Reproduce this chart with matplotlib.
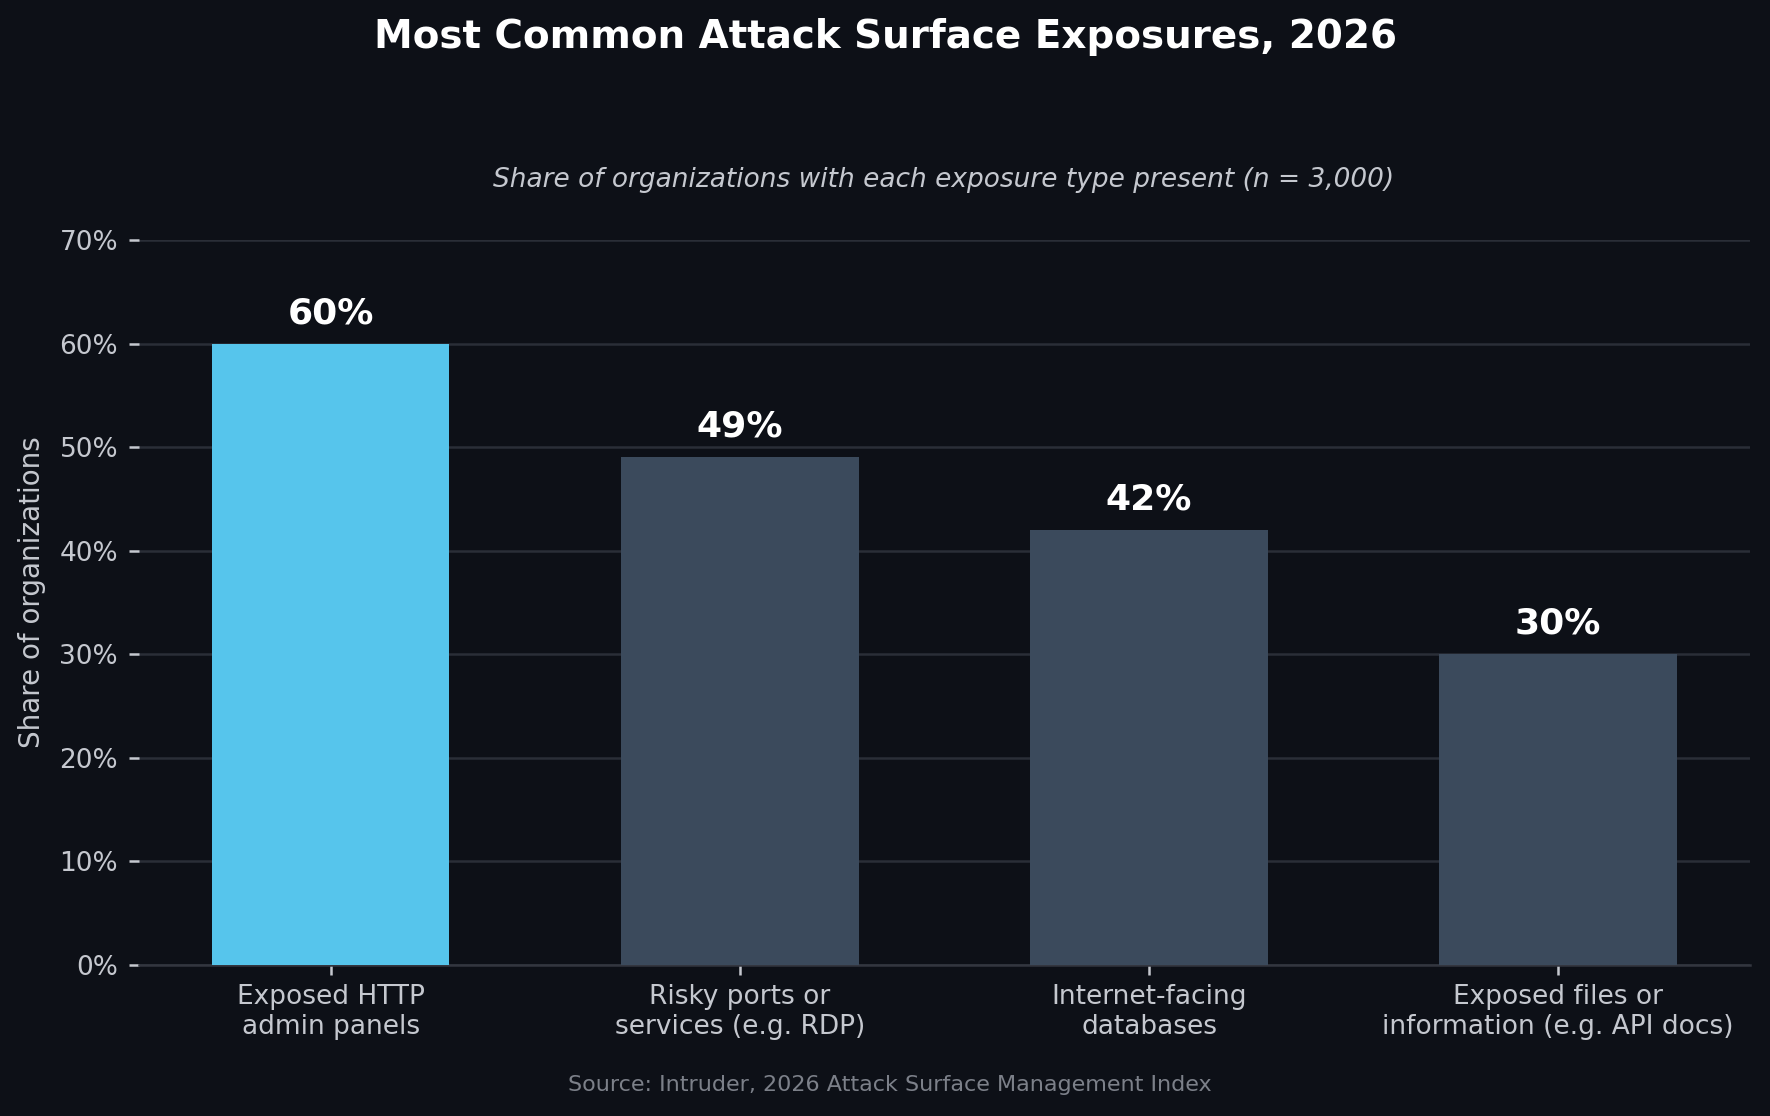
import matplotlib
matplotlib.use("Agg")
import matplotlib.pyplot as plt
from matplotlib.ticker import FuncFormatter, MultipleLocator

categories = ["Exposed HTTP\nadmin panels", "Risky ports or\nservices (e.g. RDP)",
              "Internet-facing\ndatabases", "Exposed files or\ninformation (e.g. API docs)"]
values = [60, 49, 42, 30]
bar_colors = ["#56C5EC", "#3B4A5C", "#3B4A5C", "#3B4A5C"]

BG = "#0D1017"
TXT = "#C5C8CF"
GRID = "#2A2E37"

plt.rcParams['font.family'] = ['DejaVu Sans']
fig = plt.figure(figsize=(8.85, 5.58), dpi=200, facecolor=BG)
ax = fig.add_axes([0.0785, 0.1353, 0.9102, 0.6497])
ax.set_facecolor(BG)

x = list(range(len(categories)))
bars = ax.bar(x, values, width=0.58, color=bar_colors, zorder=3)
for xi, v in zip(x, values):
    ax.text(xi, v + 1.3, f"{v}%", ha="center", va="bottom", color="white",
            fontsize=13, fontweight="bold", zorder=4)

ax.set_ylim(0, 70)
ax.yaxis.set_major_locator(MultipleLocator(10))
ax.yaxis.set_major_formatter(FuncFormatter(lambda v, p: f"{v:.0f}%"))
ax.set_xticks(x)
ax.set_xticklabels(categories)
ax.tick_params(axis="both", colors=TXT, labelsize=9.5, length=3.5, width=0.9)
ax.tick_params(axis="x", pad=3.5)
ax.tick_params(axis="y", pad=4)
ax.grid(axis="y", color=GRID, linewidth=0.9, zorder=0)
for s in ["top", "right", "left"]:
    ax.spines[s].set_visible(False)
ax.spines["bottom"].set_color("#33363F")
ax.spines["bottom"].set_linewidth(0.9)
ax.set_ylabel("Share of organizations", color=TXT, fontsize=10)
ax.yaxis.set_label_coords(-0.058, 0.514)

fig.text(0.5, 0.967, "Most Common Attack Surface Exposures, 2026", ha="center", va="center",
         color="white", fontsize=14, fontweight="bold")
fig.text(0.533, 0.839, "Share of organizations with each exposure type present (n = 3,000)",
         ha="center", va="center", color=TXT, fontsize=9.5, style="italic")
fig.text(0.5026, 0.028, "Source: Intruder, 2026 Attack Surface Management Index",
         ha="center", va="center", color="#7C8089", fontsize=8)

fig.savefig("out.png", dpi=200, facecolor=BG)
